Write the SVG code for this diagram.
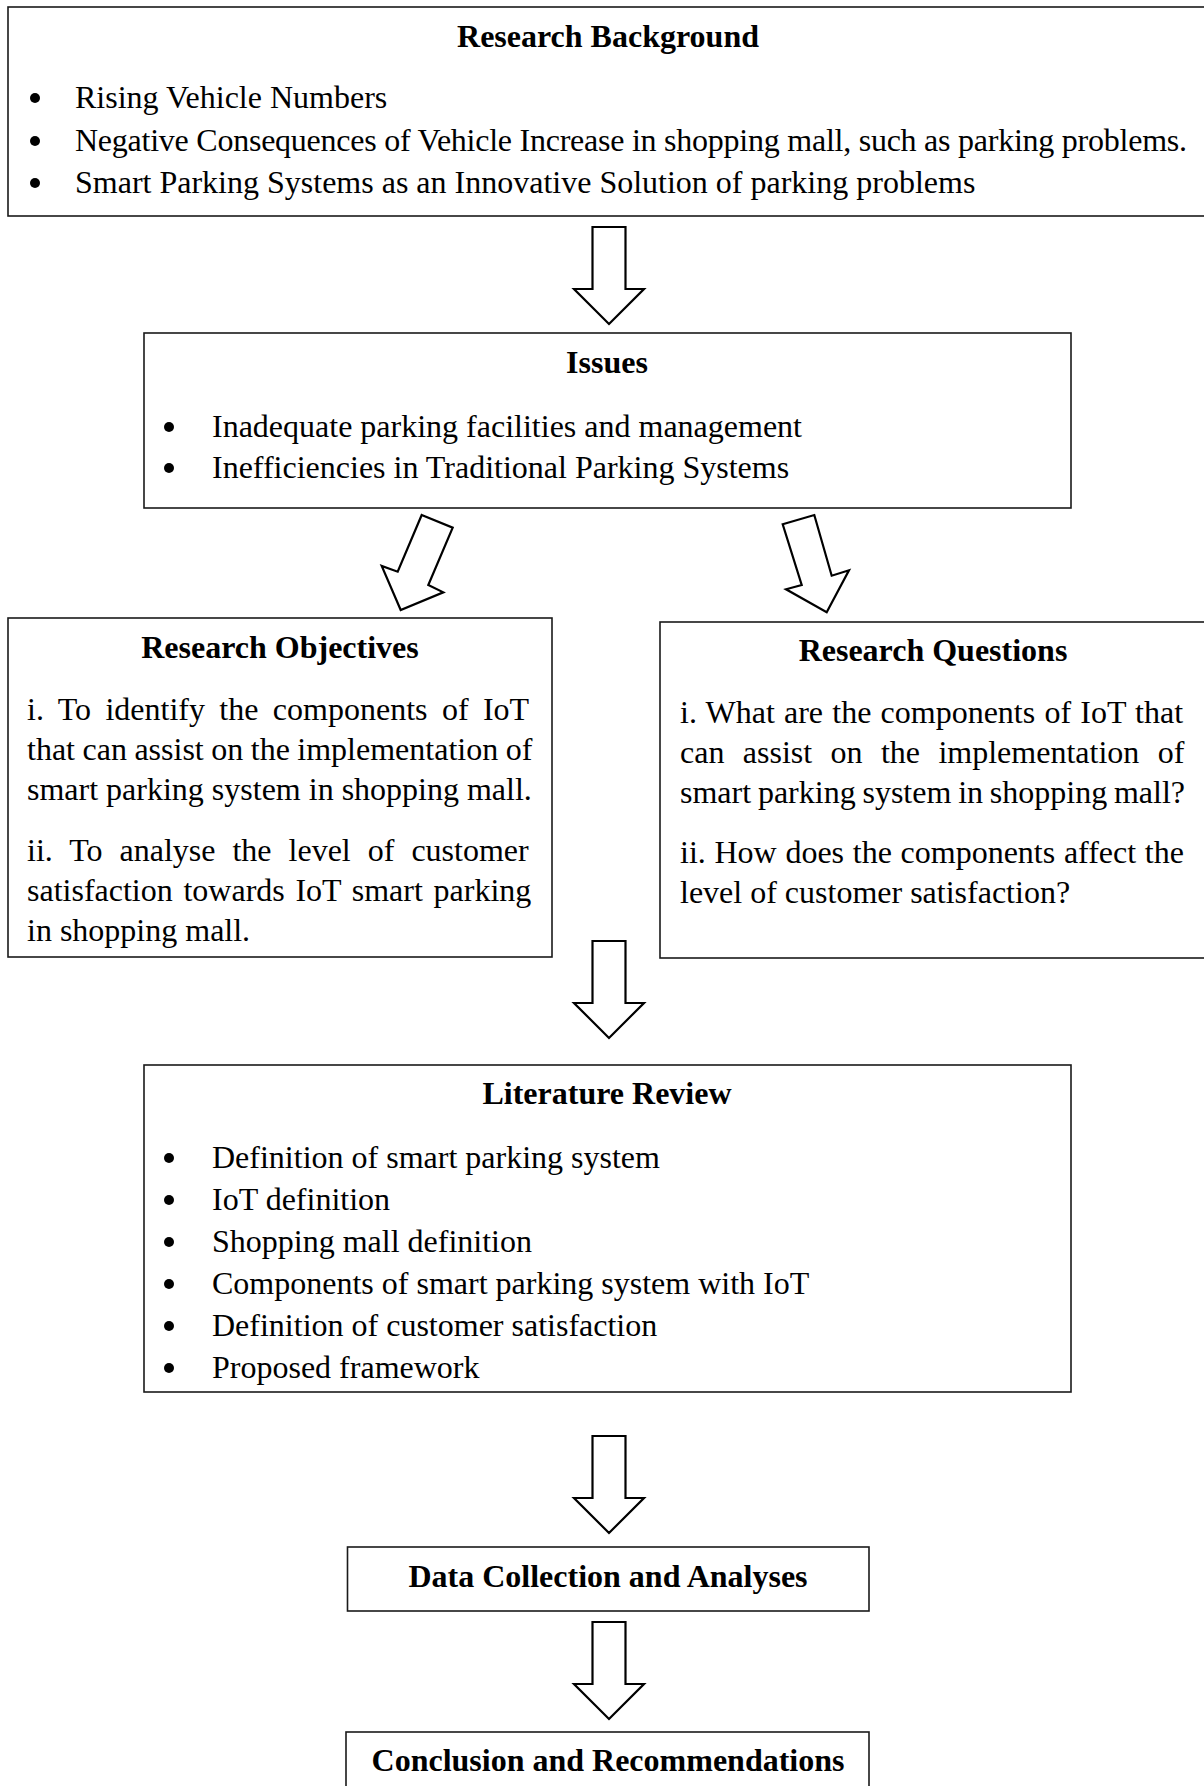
<svg xmlns="http://www.w3.org/2000/svg" xmlns:xlink="http://www.w3.org/1999/xlink" width="1204" height="1786" viewBox="0 0 1204 1786">
<style>
.box{fill:#fff;stroke:#1a1a1a;stroke-width:1.6}
.arr{fill:#fff;stroke:#000;stroke-width:2.2;stroke-linejoin:miter}
.t{font-family:"Liberation Serif","Times New Roman",serif;font-size:32px;fill:#000}
.h{font-family:"Liberation Serif","Times New Roman",serif;font-size:32px;font-weight:bold;fill:#000;text-anchor:middle}
.b{fill:#000}
</style>
<defs>
<path id="down" d="M-16.5,0 H16.5 V62 H35 L0,97 L-35,62 H-16.5 Z"/>
</defs>
<rect width="1204" height="1786" fill="#fff"/>

<g id="research-background">
<rect class="box" x="8" y="7" width="1210" height="209"/>
<text class="h" x="608" y="47">Research Background</text>
<circle class="b" cx="35" cy="98" r="5"/>
<text class="t" x="75" y="108">Rising Vehicle Numbers</text>
<circle class="b" cx="35" cy="141" r="5"/>
<text class="t" x="75" y="151" textLength="1112" lengthAdjust="spacing">Negative Consequences of Vehicle Increase in shopping mall, such as parking problems.</text>
<circle class="b" cx="35" cy="183" r="5"/>
<text class="t" x="75" y="193">Smart Parking Systems as an Innovative Solution of parking problems</text>
</g>

<g id="issues">
<rect class="box" x="144" y="333" width="927" height="175"/>
<text class="h" x="607" y="373">Issues</text>
<circle class="b" cx="169" cy="427" r="5"/>
<text class="t" x="212" y="437">Inadequate parking facilities and management</text>
<circle class="b" cx="169" cy="468" r="5"/>
<text class="t" x="212" y="478">Inefficiencies in Traditional Parking Systems</text>
</g>

<g id="research-objectives">
<rect class="box" x="8" y="618" width="544" height="339"/>
<text class="h" x="280" y="658">Research Objectives</text>
<text class="t" x="27" y="720" word-spacing="6.4">i. To identify the components of IoT</text>
<text class="t" x="27" y="760" word-spacing="-0.5">that can assist on the implementation of</text>
<text class="t" x="27" y="800">smart parking system in shopping mall.</text>
<text class="t" x="27" y="861" word-spacing="9">ii. To analyse the level of customer</text>
<text class="t" x="27" y="901" word-spacing="2.7">satisfaction towards IoT smart parking</text>
<text class="t" x="27" y="941">in shopping mall.</text>
</g>

<g id="research-questions">
<rect class="box" x="660" y="622" width="560" height="336"/>
<text class="h" x="933" y="661">Research Questions</text>
<text class="t" x="680" y="723" word-spacing="1.2">i. What are the components of IoT that</text>
<text class="t" x="680" y="763" word-spacing="10.4">can assist on the implementation of</text>
<text class="t" x="680" y="803" word-spacing="-1.2">smart parking system in shopping mall?</text>
<text class="t" x="680" y="863" word-spacing="0.7">ii. How does the components affect the</text>
<text class="t" x="680" y="903">level of customer satisfaction?</text>
</g>

<g id="literature-review">
<rect class="box" x="144" y="1065" width="927" height="327"/>
<text class="h" x="607" y="1104">Literature Review</text>
<circle class="b" cx="169" cy="1158" r="5"/>
<text class="t" x="212" y="1168">Definition of smart parking system</text>
<circle class="b" cx="169" cy="1200" r="5"/>
<text class="t" x="212" y="1210">IoT definition</text>
<circle class="b" cx="169" cy="1242" r="5"/>
<text class="t" x="212" y="1252">Shopping mall definition</text>
<circle class="b" cx="169" cy="1284" r="5"/>
<text class="t" x="212" y="1294">Components of smart parking system with IoT</text>
<circle class="b" cx="169" cy="1326" r="5"/>
<text class="t" x="212" y="1336">Definition of customer satisfaction</text>
<circle class="b" cx="169" cy="1368" r="5"/>
<text class="t" x="212" y="1378">Proposed framework</text>
</g>

<g id="data-collection">
<rect class="box" x="347.5" y="1547" width="521.5" height="64"/>
<text class="h" x="608" y="1587">Data Collection and Analyses</text>
</g>

<g id="conclusion">
<rect class="box" x="346" y="1732" width="523" height="80"/>
<text class="h" x="608" y="1771">Conclusion and Recommendations</text>
</g>

<g id="connectors">
<use class="arr" xlink:href="#down" href="#down" transform="translate(609,227)"/>
<polygon class="arr" points="421.7,515 452.7,527.7 428.3,585 443.3,592.3 400.7,610 381.7,566 397.7,571.7"/>
<polygon class="arr" points="782.7,524.3 814.3,515 831.7,575.7 849,570.3 826.7,612.3 786,589.3 801.7,585"/>
<use class="arr" xlink:href="#down" href="#down" transform="translate(609,941)"/>
<use class="arr" xlink:href="#down" href="#down" transform="translate(609,1436)"/>
<use class="arr" xlink:href="#down" href="#down" transform="translate(609,1622)"/>
</g>
</svg>
